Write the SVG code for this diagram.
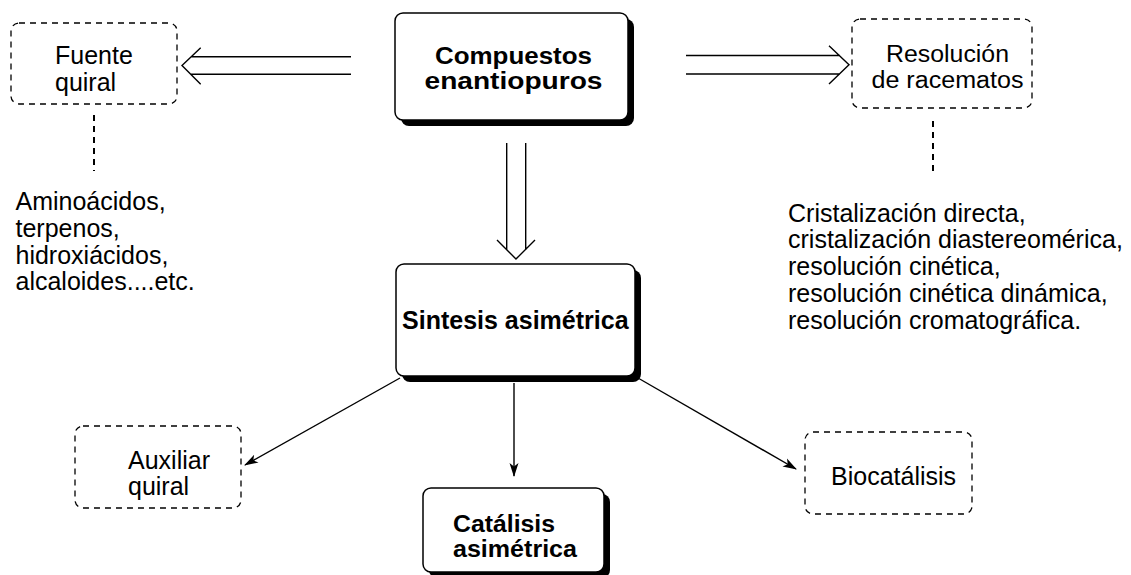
<svg xmlns="http://www.w3.org/2000/svg" width="1131" height="575" viewBox="0 0 1131 575">
<defs>
<style>
text{font-family:"Liberation Sans",Arial,sans-serif;font-size:25px;fill:#000}
.b{font-weight:bold}
.t2{font-size:23.5px}
.dash{fill:#fff;stroke:#000;stroke-width:1.3;stroke-dasharray:6,5}
.solid{fill:#fff;stroke:#000;stroke-width:1.5}
.shadow{fill:#000}
.ln{fill:none;stroke:#000;stroke-width:1.4}
.dl{fill:none;stroke:#000;stroke-width:2;stroke-dasharray:6,5}
</style>
<marker id="ah" viewBox="0 0 14 10" refX="13" refY="5" markerWidth="14" markerHeight="10" markerUnits="userSpaceOnUse" orient="auto">
<path d="M0,0.5 L14,5 L0,9.5 L3.5,5 Z" fill="#000"/>
</marker>
</defs>
<g id="connectors">
<path class="ln" d="M351,56.7 H191 M351,74.3 H191 M200.7,47.7 L182,65.5 L200.7,84.3"/>
<path class="ln" d="M686,55.5 H840 M686,74 H840 M829,45.7 L849,64.7 L829,84"/>
<path class="ln" d="M506.7,143 V250 M525.7,143 V250 M497,240 L516,259 L535,240"/>
<line class="ln" x1="400" y1="378" x2="245" y2="465" marker-end="url(#ah)"/>
<line class="ln" x1="514" y1="383" x2="514" y2="476" marker-end="url(#ah)"/>
<line class="ln" x1="638" y1="378" x2="796" y2="469" marker-end="url(#ah)"/>
<line class="dl" x1="94" y1="115" x2="94" y2="171"/>
<line class="dl" x1="933" y1="121" x2="933" y2="175"/>
</g>
<g id="fuente">
<rect class="dash" x="11" y="23" width="166" height="81" rx="8"/>
<text x="55" y="64">Fuente</text>
<text x="55" y="90.5">quiral</text>
</g>
<g id="fuente-ej">
<text x="15.5" y="210">Aminoácidos,</text>
<text x="15.5" y="237">terpenos,</text>
<text x="15.5" y="263.5">hidroxiácidos,</text>
<text x="15.5" y="290">alcaloides....etc.</text>
</g>
<g id="compuestos">
<rect class="shadow" x="401" y="19" width="233" height="107" rx="8"/>
<rect class="solid" x="395" y="13" width="233" height="107" rx="8"/>
<text class="b t2" x="513.5" y="64" text-anchor="middle" textLength="157" lengthAdjust="spacingAndGlyphs">Compuestos</text>
<text class="b t2" x="513.5" y="89" text-anchor="middle" textLength="178" lengthAdjust="spacingAndGlyphs">enantiopuros</text>
</g>
<g id="resolucion">
<rect class="dash" x="852" y="19" width="180" height="89" rx="8"/>
<text class="t2" x="947.5" y="62" text-anchor="middle" textLength="123" lengthAdjust="spacingAndGlyphs">Resolución</text>
<text class="t2" x="947.5" y="87.5" text-anchor="middle" textLength="152" lengthAdjust="spacingAndGlyphs">de racematos</text>
</g>
<g id="resolucion-ej">
<text x="788" y="221.7">Cristalización directa,</text>
<text x="788" y="248.3">cristalización diastereomérica,</text>
<text x="788" y="275">resolución cinética,</text>
<text x="788" y="302">resolución cinética dinámica,</text>
<text x="788" y="328.7">resolución cromatográfica.</text>
</g>
<g id="sintesis">
<rect class="shadow" x="402" y="270" width="239" height="112" rx="8"/>
<rect class="solid" x="396" y="264" width="239" height="112" rx="8"/>
<text class="b" x="515.3" y="328.5" text-anchor="middle">Sintesis asimétrica</text>
</g>
<g id="auxiliar">
<rect class="dash" x="75" y="426" width="166" height="82" rx="8"/>
<text x="128" y="469">Auxiliar</text>
<text x="128" y="495">quiral</text>
</g>
<g id="catalisis">
<rect class="shadow" x="429" y="494" width="181" height="84" rx="8"/>
<rect class="solid" x="423" y="488" width="181" height="84" rx="8"/>
<text class="b t2" x="453" y="532" textLength="102" lengthAdjust="spacingAndGlyphs">Catálisis</text>
<text class="b t2" x="453" y="557" textLength="124" lengthAdjust="spacingAndGlyphs">asimétrica</text>
</g>
<g id="biocatalisis">
<rect class="dash" x="805" y="432" width="167" height="82" rx="8"/>
<text x="831" y="485">Biocatálisis</text>
</g>
</svg>
